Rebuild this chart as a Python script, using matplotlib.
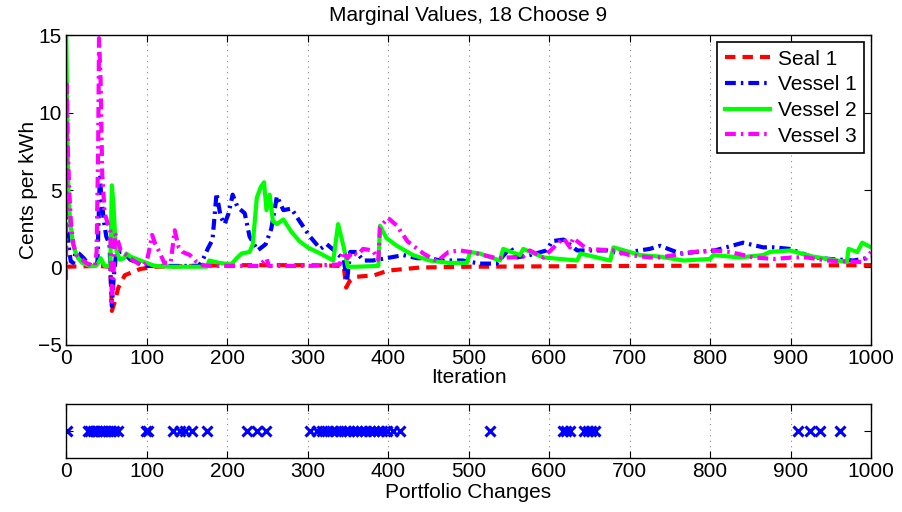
import matplotlib
matplotlib.use("Agg")
import matplotlib.pyplot as plt
import numpy as np

# (iteration, cents per kWh)
seal1 = [(0, 0.05), (40, 0.1), (55, 0.05), (57, -2.8), (60, -2.3), (65, -1.3), (73, -0.5),
         (92, -0.1), (110, 0.05), (200, 0.15), (300, 0.15), (345, 0.1), (348, -1.3),
         (352, -0.9), (361, -0.6), (383, -0.5), (400, -0.2), (440, 0.0), (500, 0.05),
         (700, 0.1), (1000, 0.15)]

vessel1 = [(0, 3.8), (2, 2.5), (4, 1.0), (6, 0.4), (9, 0.3), (12, 1.0), (16, 0.9), (22, 0.6),
           (28, 0.2), (35, 0.1), (39, 0.3), (41, 4.0), (42, 5.8), (44, 4.5), (47, 3.0),
           (50, 2.0), (54, 1.5), (57, -2.5), (59, -0.8), (62, 0.8), (66, 1.0), (71, 1.0),
           (80, 0.5), (90, 0.3), (100, 0.1), (165, 0.1), (170, 0.5), (176, 1.2), (182, 1.8),
           (187, 4.8), (192, 3.3), (197, 2.8), (202, 3.5), (207, 4.7), (213, 3.9), (222, 3.5),
           (228, 2.0), (238, 1.1), (248, 1.5), (255, 2.5), (262, 4.6), (270, 3.7), (280, 3.8),
           (290, 3.0), (303, 2.0), (316, 1.2), (324, 1.5), (333, 1.1), (345, 0.5), (349, -0.9),
           (353, 1.0), (361, 1.0), (369, 0.45), (381, 0.45), (398, 0.6), (419, 0.8), (436, 0.6),
           (452, 0.6), (465, 0.45), (493, 0.45), (514, 0.25), (535, 0.25), (552, 1.3),
           (560, 0.65), (576, 0.8), (597, 1.1), (604, 1.7), (618, 1.8), (635, 1.1), (672, 1.1),
           (688, 0.9), (725, 1.2), (738, 1.4), (763, 0.9), (783, 1.0), (806, 1.1), (841, 1.6),
           (866, 1.3), (879, 1.3), (899, 1.2), (928, 0.65), (949, 0.55), (978, 0.45),
           (1000, 0.65)]

vessel2 = [(0, 16.0), (1, 12.0), (2, 8.0), (3, 5.0), (5, 3.0), (8, 1.8), (11, 1.1), (15, 0.6),
           (20, 0.3), (30, 0.1), (37, 0.1), (40, 0.3), (43, 0.6), (48, 0.1), (55, 0.1),
           (57, 5.3), (59, 4.0), (61, 2.0), (63, 1.0), (67, 0.5), (72, 0.6), (75, 0.9),
           (80, 0.7), (90, 0.5), (100, 0.3), (110, 0.1), (130, 0.05), (175, 0.05), (178, 0.45),
           (190, 0.3), (205, 0.2), (212, 0.6), (218, 0.9), (228, 1.0), (232, 1.5), (237, 4.5),
           (242, 5.2), (246, 5.5), (249, 3.7), (253, 4.7), (257, 3.0), (262, 2.8), (270, 3.1),
           (280, 2.3), (290, 1.7), (300, 1.3), (316, 0.9), (332, 0.45), (338, 2.8), (345, 1.3),
           (350, 0.05), (360, 0.05), (388, 0.1), (390, 2.7), (398, 1.9), (411, 1.4), (431, 0.8),
           (452, 0.45), (475, 0.3), (498, 0.3), (502, 1.0), (514, 0.9), (539, 0.45), (543, 1.2),
           (564, 0.8), (568, 1.2), (593, 0.65), (635, 0.45), (639, 0.9), (676, 0.45), (680, 1.3),
           (700, 1.0), (713, 0.8), (738, 0.7), (767, 0.45), (800, 0.55), (804, 0.8), (837, 0.65),
           (866, 0.8), (874, 1.0), (899, 1.1), (928, 0.7), (970, 0.35), (972, 1.2), (983, 1.0),
           (989, 1.6), (1000, 1.3)]

vessel3 = [(0, -0.8), (1, 11.8), (2, 8.0), (4, 5.0), (6, 3.0), (9, 1.5), (13, 0.8), (18, 0.6),
           (25, 0.3), (33, 0.1), (36, 0.1), (38, 1.0), (40, 8.0), (41, 14.8), (43, 12.0),
           (45, 6.0), (48, 3.5), (52, 2.8), (55, 2.4), (57, -2.2), (59, -0.5), (61, 2.2),
           (64, 1.8), (68, 1.1), (75, 0.8), (85, 0.4), (95, 0.1), (100, 0.3), (104, 1.3),
           (107, 2.1), (111, 1.5), (117, 0.9), (122, 0.3), (130, 0.3), (135, 2.4), (140, 1.3),
           (145, 1.0), (154, 0.8), (160, 0.45), (170, 0.15), (180, 0.1), (240, 0.1), (249, 0.6),
           (252, 0.1), (300, 0.1), (340, 0.2), (344, 1.0), (350, 0.6), (355, 1.0), (362, 0.8),
           (369, 1.2), (381, 1.1), (388, 0.5), (390, 2.6), (400, 3.2), (411, 2.7), (424, 1.7),
           (444, 0.9), (461, 0.4), (475, 1.0), (489, 1.1), (502, 1.0), (535, 0.6), (568, 0.7),
           (576, 1.1), (593, 0.65), (618, 1.9), (626, 1.3), (630, 1.9), (647, 1.2), (680, 1.1),
           (700, 0.8), (725, 0.65), (738, 0.65), (779, 1.0), (804, 1.1), (825, 1.0), (854, 0.65),
           (879, 0.55), (903, 0.65), (920, 0.65), (945, 0.45), (990, 0.35), (1000, 1.0)]

portfolio_changes = [1, 27, 30, 33, 36, 39, 42, 45, 48, 52, 56, 60, 64, 99, 102, 133, 142, 148,
                     156, 175, 225, 237, 249, 303, 312, 318, 324, 330, 336, 342, 348, 352, 357,
                     362, 367, 372, 377, 382, 387, 392, 399, 406, 415, 527, 617, 621, 626, 643,
                     648, 652, 657, 909, 924, 937, 962]

labels = ["Seal 1", "Vessel 1", "Vessel 2", "Vessel 3"]
colors = ["#ff0000", "#0000ff", "#00ff00", "#ff00ff"]
styles = [(0, (2.5, 1.7)), (0, (2.6, 1.2, 0.6, 1.2)), "-", (0, (2.6, 1.2, 0.6, 1.2))]

plt.rcParams['font.family'] = ['Liberation Sans', 'DejaVu Sans']
plt.rcParams['font.size'] = 15

fig = plt.figure(figsize=(9.03, 5.12), dpi=100)
ax = fig.add_axes([0.0731, 0.3262, 0.8915, 0.6054])
ax2 = fig.add_axes([0.0731, 0.1055, 0.8915, 0.1055])

for series, lab, c, ls in zip([seal1, vessel1, vessel2, vessel3], labels, colors, styles):
    xy = np.array(series)
    ax.plot(xy[:, 0], xy[:, 1], color=c, linestyle=ls, lw=3, label=lab)

ax.set_xlim(0, 1000)
ax.set_ylim(-5, 15)
ax.set_xticks(np.arange(0, 1001, 100))
ax.set_yticks([-5, 0, 5, 10, 15])
ax.grid(axis='x', color='#888888', linestyle=(0, (1, 4)), linewidth=0.8)
ax.set_title("Marginal Values, 18 Choose 9", fontsize=15, pad=10)
ax.set_xlabel("Iteration", labelpad=0)
ax.set_ylabel("Cents per kWh", labelpad=0)
leg = ax.legend(loc='upper right', fancybox=False, edgecolor='black', framealpha=1,
                handlelength=2.2, borderaxespad=0.35, labelspacing=0.32, borderpad=0.35,
                handletextpad=0.35)
leg.get_frame().set_linewidth(1.2)

ax2.plot(portfolio_changes, np.zeros(len(portfolio_changes)), 'x', color='#0000ff',
         markersize=7, markeredgewidth=2.2, linestyle='none')
ax2.set_xlim(0, 1000)
ax2.set_ylim(-1, 1)
ax2.set_xticks(np.arange(0, 1001, 100))
ax2.set_yticks([0])
ax2.set_yticklabels([""])
ax2.grid(axis='x', color='#888888', linestyle=(0, (1, 4)), linewidth=0.8)
ax2.set_xlabel("Portfolio Changes", labelpad=1)

for a in (ax, ax2):
    a.tick_params(direction='in', top=True, right=True, length=5, width=0.8, pad=3)
    for s in a.spines.values():
        s.set_linewidth(1.0)

fig.savefig("out.png", dpi=100)
